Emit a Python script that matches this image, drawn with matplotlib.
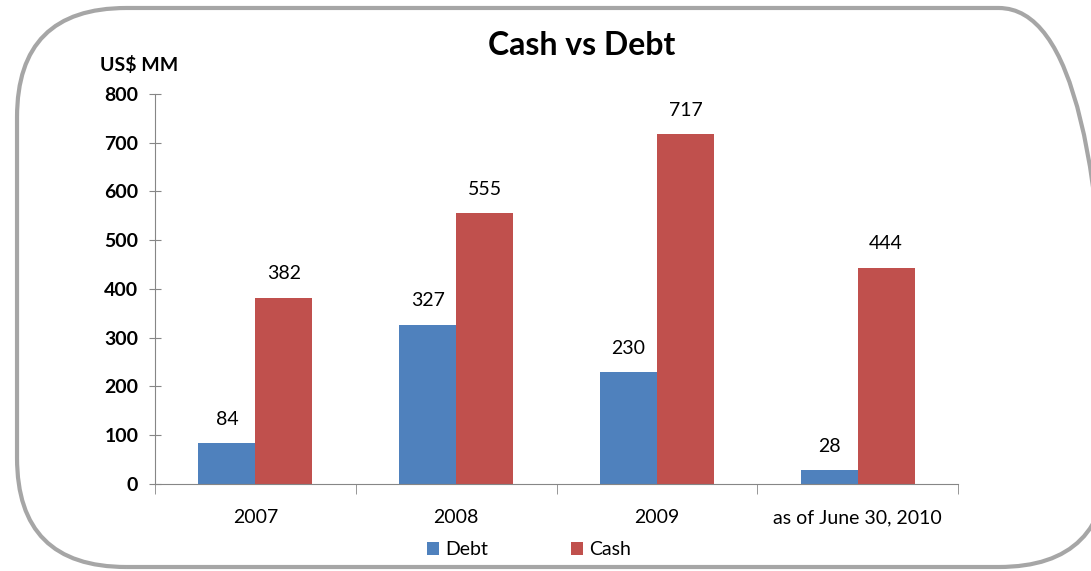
import numpy as np
import matplotlib.pyplot as plt
from matplotlib.patches import FancyBboxPatch

categories = ['2007', '2008', '2009', 'as of June 30, 2010']
debt = [84, 327, 230, 28]
cash = [382, 555, 717, 444]

blue = '#4F81BD'
red = '#C0504D'
axis_col = '#868686'

plt.rcParams['font.family'] = ['Lato', 'DejaVu Sans']

fig = plt.figure(figsize=(10.91, 5.71), dpi=100)

# rounded frame round the whole chart (right side runs off the picture)
frame = FancyBboxPatch((0.0156, 0.007), 1.0, 0.979,
                       boxstyle='round,pad=0,rounding_size=0.1',
                       transform=fig.transFigure, fill=False,
                       edgecolor='#A6A6A6', linewidth=3,
                       mutation_aspect=1091 / 571)
fig.patches.append(frame)

ax = fig.add_axes([0.1421, 0.1524, 0.736, 0.6830])

x = np.arange(len(categories))
w = 0.284
b1 = ax.bar(x - w / 2, debt, w, color=blue, label='Debt')
b2 = ax.bar(x + w / 2, cash, w, color=red, label='Cash')

for bars, vals in ((b1, debt), (b2, cash)):
    for r, v in zip(bars, vals):
        ax.annotate(str(v), (r.get_x() + r.get_width() / 2, v),
                    xytext=(0, 11), textcoords='offset points',
                    ha='center', va='bottom', fontsize=14, color='black')

ax.set_xlim(-0.5, len(categories) - 0.5)
ax.set_ylim(0, 800)
ax.set_yticks(range(0, 801, 100))

ax.set_xticks(x)
ax.set_xticklabels(categories, fontsize=14)
ax.set_xticks(np.arange(-0.5, len(categories)), minor=True)
ax.tick_params(axis='x', which='major', length=0, pad=18)
ax.tick_params(axis='x', which='minor', length=7, direction='out', color=axis_col)
ax.tick_params(axis='y', length=8, direction='inout', color=axis_col, pad=8,
               labelsize=14)
for lab in ax.get_yticklabels():
    lab.set_fontweight('bold')

for s in ['top', 'right']:
    ax.spines[s].set_visible(False)
for s in ['left', 'bottom']:
    ax.spines[s].set_color(axis_col)

fig.text(0.533, 0.920, 'Cash vs Debt', ha='center', va='center',
         fontsize=23, fontweight='bold')
fig.text(0.092, 0.886, 'US$ MM', ha='left', va='center',
         fontsize=14, fontweight='bold')

fig.legend(handles=[b1, b2], labels=['Debt', 'Cash'], loc='center',
           bbox_to_anchor=(0.485, 0.037), ncol=2, frameon=False,
           fontsize=14, handlelength=0.62, handleheight=0.62,
           handletextpad=0.3, columnspacing=4.3, borderpad=0)

plt.savefig('out.png')
plt.close()
